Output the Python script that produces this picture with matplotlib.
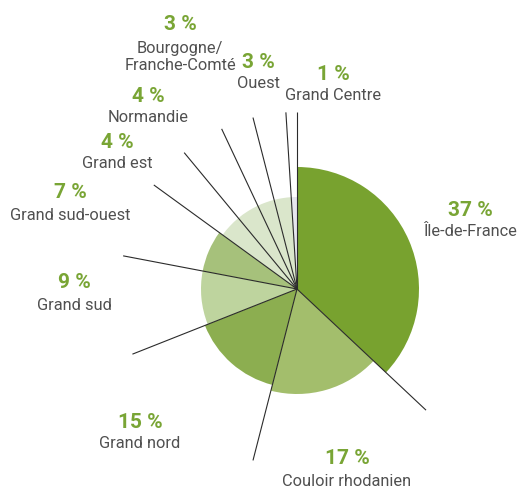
import numpy as np
import matplotlib.pyplot as plt

# Share of sites by region, clockwise from 12 o'clock
regions = ["Île-de-France", "Couloir rhodanien", "Grand nord", "Grand sud",
           "Grand sud-ouest", "Grand est", "Normandie",
           "Bourgogne/\nFranche-Comté", "Ouest", "Grand Centre"]
shares = [37, 17, 15, 9, 7, 4, 4, 3, 3, 1]

# Slice styling (radius in pixels, fill colour)
radii = [122, 105, 99, 96, 96, 92, 92, 92, 92, 92]
colors = ["#78a22f", "#a3be6c", "#8cae50", "#bed49e", "#a6c17b",
          "#dae6cb", "#dae6cb", "#dae6cb", "#dae6cb", "#e6e6ee"]

# Label anchor points (pixel coords, y from top): percent line, then name
label_pos = [(470, 210), (347, 459), (140, 422), (74, 283), (70, 193),
             (117, 142), (148, 96), (180, 25), (258, 62), (333, 74)]

W, H = 531, 488
cx, cy = 297, H - 289
line_len = 177

fig = plt.figure(figsize=(W / 100, H / 100), dpi=100)
ax = fig.add_axes([0, 0, 1, 1])

wedges, _ = ax.pie(shares, colors=colors, startangle=90, counterclock=False,
                   center=(cx, cy), radius=100,
                   wedgeprops=dict(linewidth=0, edgecolor="none"))
for w, r in zip(wedges, radii):
    w.set_radius(r)

# Leader lines along every slice boundary
bounds = 90 - 360 * np.cumsum([0] + shares[:-1]) / sum(shares)
for a in bounds:
    t = np.deg2rad(a)
    ax.plot([cx, cx + line_len * np.cos(t)], [cy, cy + line_len * np.sin(t)],
            color="#2b2b2b", lw=0.8, solid_capstyle="butt", zorder=3)

green = "#79a535"
grey = "#505050"
for name, val, (x, y) in zip(regions, shares, label_pos):
    ax.text(x, H - y, f"{val} %", ha="center", va="center", color=green,
            fontsize=15, fontweight="bold", family="Roboto")
    n_lines = name.count("\n") + 1
    ny = H - y - 22 - (n_lines - 1) * 10
    ax.text(x, ny, name, ha="center", va="center", color=grey,
            fontsize=11.8, family="Roboto", linespacing=1.2)

ax.set_xlim(0, W)
ax.set_ylim(0, H)
ax.set_aspect("equal")
ax.axis("off")

fig.savefig("out.png", dpi=100)
